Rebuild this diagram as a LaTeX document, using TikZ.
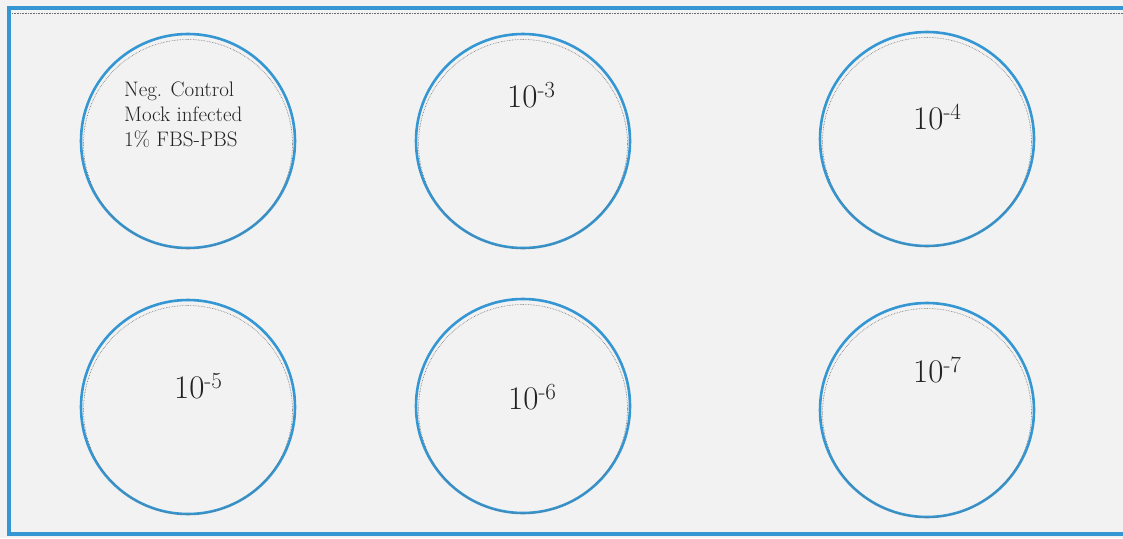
\documentclass[tikz,border=0pt]{standalone}
\usepackage{tikz}
\usetikzlibrary{calc}

\definecolor{wellblue}{RGB}{52,150,210}
\definecolor{paper}{RGB}{242,242,242}
\definecolor{inkgrey}{RGB}{35,35,35}

\begin{document}
\begin{tikzpicture}[x=1pt, y=-1pt,
  plate/.style={draw=wellblue, line width=3.2pt},
  well/.style={circle, draw=wellblue, line width=2.6pt, minimum size=214pt,
               inner sep=0pt},
  scanring/.style={draw=gray!85!black, line width=0.6pt, densely dotted},
  dil/.style={font=\fontsize{33}{36}\selectfont, text=inkgrey,
              anchor=base west, inner sep=0pt},
  ctrl/.style={font=\fontsize{21}{25}\selectfont, text=inkgrey, align=left,
               anchor=north west, inner sep=0pt}
]
  \clip (0,0) rectangle (1123,538);
  \fill[paper] (0,0) rectangle (1123,538);

  % plate outline (runs off the right edge)
  \draw[plate] (9,8) rectangle (1140,534);
  \draw[scanring] (12,13) -- (1123,13);

  % wells
  \node[well] (w1) at (188,141) {};
  \node[well] (w2) at (523,141) {};
  \node[well] (w3) at (927,139) {};
  \node[well] (w4) at (188,407) {};
  \node[well] (w5) at (523,406) {};
  \node[well] (w6) at (927,410) {};

  \foreach \w in {w1,w2,w3,w4,w5,w6}
    \draw[scanring] ($(\w.center)+(0,3)$) circle (104.5);

  % labels
  \node[ctrl] (neg) at (124,82) {Neg. Control\\Mock infected\\1\% FBS-PBS};
  \node[dil] (d3) at (507,107) {10\textsuperscript{-3}};
  \node[dil] (d4) at (913,129) {10\textsuperscript{-4}};
  \node[dil] (d5) at (174,398) {10\textsuperscript{-5}};
  \node[dil] (d6) at (508,409) {10\textsuperscript{-6}};
  \node[dil] (d7) at (913,382) {10\textsuperscript{-7}};
\end{tikzpicture}
\end{document}
